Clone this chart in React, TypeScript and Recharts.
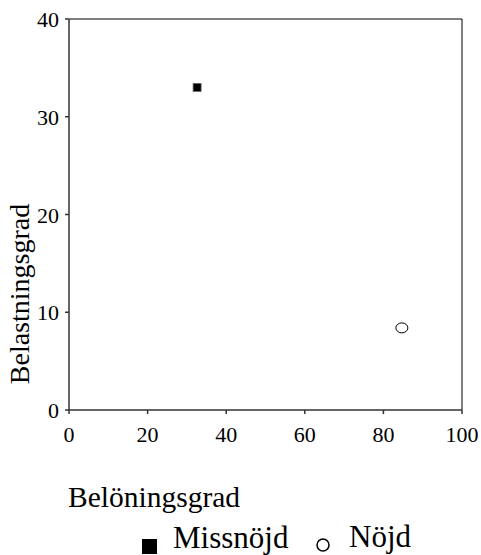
import { ScatterChart, Scatter, XAxis, YAxis, ReferenceLine } from "recharts";

const missnojd = [{ x: 32.6, y: 33 }];
const nojd = [{ x: 84.7, y: 8.4 }];
const xTicks = [0, 20, 40, 60, 80, 100];
const yTicks = [0, 10, 20, 30, 40];

const SquareDot = (props: any) => {
  const { cx, cy } = props;
  return <rect x={cx - 4} y={cy - 4} width={8} height={8} fill="#000" stroke="#666" strokeWidth={0.8} />;
};

const CircleDot = (props: any) => {
  const { cx, cy } = props;
  return <ellipse cx={cx} cy={cy} rx={6} ry={5} fill="#fff" stroke="#000" strokeWidth={1} />;
};

const XTick = ({ x, y, payload }: any) => (
  <text x={x} y={y + 26} textAnchor="middle" fontSize={22} fill="#000">
    {payload.value}
  </text>
);

const YTick = ({ x, y, payload }: any) => (
  <text x={x - 4} y={y + 8} textAnchor="end" fontSize={22} fill="#000">
    {payload.value}
  </text>
);

const YTitle = () => (
  <text x={29} y={294} transform="rotate(-90, 29, 294)" textAnchor="middle" fontSize={28} fill="#000">
    Belastningsgrad
  </text>
);

const XTitle = ({ viewBox }: any) => (
  <text x={viewBox.x - 1} y={507} fontSize={29.5} fill="#000">
    Belöningsgrad
  </text>
);

export default function App() {
  return (
    <div>
      <div style={{ position: "absolute", left: 0, top: 0 }}>
        <ScatterChart width={481} height={555} margin={{ top: 19, right: 19, bottom: 115, left: 0 }}>
          <XAxis
            type="number"
            dataKey="x"
            domain={[0, 100]}
            ticks={xTicks}
            height={30}
            stroke="#333"
            strokeWidth={1.5}
            tickSize={4}
            tick={XTick}
            label={XTitle}
          />
          <YAxis
            type="number"
            dataKey="y"
            domain={[0, 40]}
            ticks={yTicks}
            width={69}
            stroke="#333"
            strokeWidth={1.5}
            tickSize={4}
            tick={YTick}
            label={YTitle}
          />
          <ReferenceLine y={40} stroke="#000" strokeWidth={1} />
          <ReferenceLine x={100} stroke="#000" strokeWidth={1} />
          <Scatter name="Missnöjd" data={missnojd} shape={SquareDot} isAnimationActive={false} />
          <Scatter name="Nöjd" data={nojd} shape={CircleDot} isAnimationActive={false} />
        </ScatterChart>
      </div>
      <div style={{ position: "absolute", left: 0, top: 495 }}>
        <svg width={481} height={60}>
          <rect x={142} y={44} width={15} height={15} fill="#000" />
          <text x={173} y={53} fontSize={31} fill="#000">
            Missnöjd
          </text>
          <circle cx={323} cy={50} r={6} fill="#fff" stroke="#000" strokeWidth={1.5} />
          <text x={349} y={52} fontSize={31} fill="#000">
            Nöjd
          </text>
        </svg>
      </div>
    </div>
  );
}
